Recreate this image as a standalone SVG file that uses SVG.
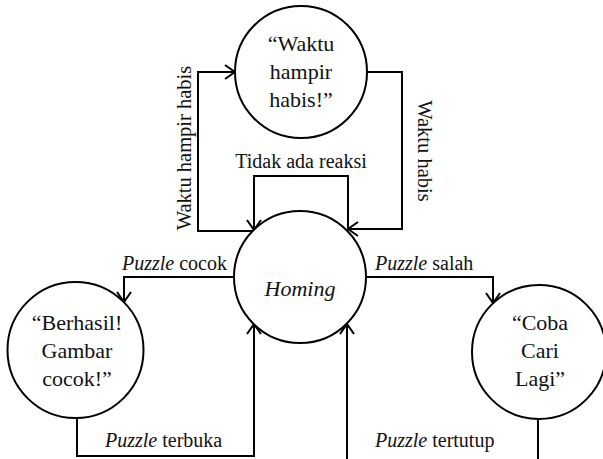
<svg xmlns="http://www.w3.org/2000/svg" width="603" height="459" viewBox="0 0 603 459" font-family="Liberation Serif, Times New Roman, serif">
<style>
.node circle{fill:#fff;stroke:#000;stroke-width:2}
.nt{font-size:22px;fill:#111;text-anchor:middle}
.lbl{font-size:20px;fill:#111}
.it{font-style:italic}
#connectors path{fill:none;stroke:#000;stroke-width:2;marker-end:url(#arr)}
</style>
<defs>
<marker id="arr" markerUnits="userSpaceOnUse" viewBox="-1 -8 12 16" refX="10" refY="0" markerWidth="12" markerHeight="16" orient="auto">
<path d="M0,-7 L10,0 L0,7" fill="none" stroke="#000" stroke-width="2"/>
</marker>
</defs>
<rect width="603" height="459" fill="#fff"/>
<g id="connectors">
<path d="M255,231 L198,231 L198,72 L235,72"/>
<path d="M367,72 L402,72 L402,229 L348,229"/>
<path d="M348,229 L348,176 L254,176 L254,230"/>
<path d="M234,277 L124,277 L124,302"/>
<path d="M366,277 L493,277 L493,303"/>
<path d="M77,418 L77,456 L254,456 L254,324"/>
<path d="M538,419 L538,463 L347,463 L347,324"/>
</g>
<g id="labels">
<text class="lbl" x="301" y="168" text-anchor="middle">Tidak ada reaksi</text>
<text class="lbl" transform="translate(191,148) rotate(-90)" text-anchor="middle" style="font-size:20.5px">Waktu hampir habis</text>
<text class="lbl" transform="translate(418,151) rotate(90)" text-anchor="middle" style="font-size:20.5px">Waktu habis</text>
<text class="lbl" x="122" y="270"><tspan class="it">Puzzle</tspan> cocok</text>
<text class="lbl" x="375" y="270"><tspan class="it">Puzzle</tspan> salah</text>
<text class="lbl" x="105" y="447"><tspan class="it">Puzzle</tspan> terbuka</text>
<text class="lbl" x="375" y="447"><tspan class="it">Puzzle</tspan> tertutup</text>
</g>
<g id="node-waktu" class="node">
<circle cx="301" cy="72" r="66"/>
<text class="nt" x="301" y="51">“Waktu</text>
<text class="nt" x="301" y="79">hampir</text>
<text class="nt" x="301" y="107">habis!”</text>
</g>
<g id="node-homing" class="node">
<circle cx="300" cy="277" r="66"/>
<text class="nt it" x="300" y="296">Homing</text>
</g>
<g id="node-berhasil" class="node">
<circle cx="75.5" cy="350" r="68"/>
<text class="nt" x="77" y="330">“Berhasil!</text>
<text class="nt" x="77" y="358">Gambar</text>
<text class="nt" x="77" y="386">cocok!”</text>
</g>
<g id="node-coba" class="node">
<circle cx="539" cy="352" r="67"/>
<text class="nt" x="540" y="330">“Coba</text>
<text class="nt" x="540" y="358">Cari</text>
<text class="nt" x="540" y="386">Lagi”</text>
</g>
</svg>
